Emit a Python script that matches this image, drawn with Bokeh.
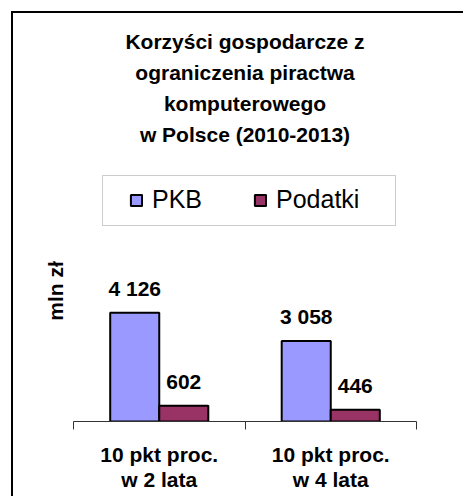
from bokeh.plotting import figure
from bokeh.models import Range1d, FixedTicker, Legend, LegendItem, ColumnDataSource, Title, BoxAnnotation
from bokeh.core.properties import value
from bokeh.transform import dodge
from bokeh.embed import file_html
from bokeh.resources import INLINE

# ---- data ----
categories = ["10 pkt proc.\nw 2 lata", "10 pkt proc.\nw 4 lata"]
series = ["PKB", "Podatki"]
pkb = [4126, 3058]
podatki = [602, 446]
pkb_labels = ["4 126", "3 058"]
podatki_labels = ["602", "446"]
title_lines = ["Korzyści gospodarcze z", "ograniczenia piractwa",
               "komputerowego", "w Polsce (2010-2013)"]
y_label = "mln zł"

FONT = "Liberation Sans"
FS = "21px"
C_PKB = "#9999FF"
C_POD = "#993366"

xpos = [i + 0.5 for i in range(len(categories))]
src = ColumnDataSource(dict(x=xpos, pkb=pkb, podatki=podatki,
                            pkb_lab=pkb_labels, pod_lab=podatki_labels))

W, H = 463, 496
p = figure(width=W, height=H,
           x_range=Range1d(0, len(categories)), y_range=Range1d(0, 9905),
           output_backend="svg", toolbar_location=None,
           min_border_left=73, min_border_right=47,
           min_border_top=160, min_border_bottom=75)

# chart-area border (top and left edges only fall inside the page), drawn
# behind a transparent canvas
p.styles = {"background":
            "linear-gradient(#000,#000) 11px 11px / 2px 100% no-repeat, "
            "linear-gradient(#000,#000) 11px 11px / 100% 2px no-repeat, #fff"}
p.border_fill_color = None
p.background_fill_color = None

p.grid.visible = False
p.outline_line_color = None

# default title unused
p.title.text = ""
p.title.text_font_size = "1px"
p.title.standoff = 0

# small spacer between the title block and the frame
p.add_layout(Title(text=" ", text_font_size="1px", standoff=9), "above")

# title: one Title per line, stacked outward from the frame
for s in reversed(title_lines):
    t = Title(text=s, align="center",
              text_font=FONT, text_font_size=FS, text_font_style="bold",
              text_color="black", standoff=6)
    p.add_layout(t, "above")

# bars
bw = 0.286
r1 = p.vbar(x=dodge("x", -0.143, range=p.x_range), top="pkb", width=bw, source=src,
            fill_color=C_PKB, line_color="black", line_width=2)
r2 = p.vbar(x=dodge("x", 0.143, range=p.x_range), top="podatki", width=bw, source=src,
            fill_color=C_POD, line_color="black", line_width=2)

# value labels
for col, lab, off in (("pkb", "pkb_lab", -0.143), ("podatki", "pod_lab", 0.143)):
    p.text(x=dodge("x", off, range=p.x_range), y=col, text=lab, source=src,
           text_align="center", text_baseline="middle", y_offset=-24,
           text_font=value(FONT), text_font_size=FS, text_font_style="bold",
           text_color="black")

# x axis
xa = p.xaxis[0]
xa.ticker = FixedTicker(ticks=xpos, minor_ticks=[0, 1, 2])
xa.major_label_overrides = {xpos[i]: categories[i] for i in range(len(categories))}
xa.major_tick_line_color = None
xa.major_tick_out = 0
xa.major_tick_in = 0
xa.minor_tick_out = 8
xa.minor_tick_in = 0
xa.minor_tick_line_color = "#333333"
xa.axis_line_color = "#333333"
xa.major_label_text_font = FONT
xa.major_label_text_font_size = FS
xa.major_label_text_font_style = "bold"
xa.major_label_text_color = "black"
xa.major_label_text_line_height = 1.1
xa.major_label_standoff = 13

# y axis
ya = p.yaxis[0]
ya.ticker = FixedTicker(ticks=[])
ya.axis_line_color = None
ya.major_tick_line_color = None
ya.minor_tick_line_color = None
ya.major_label_text_font_size = "0px"
ya.axis_label = y_label
ya.axis_label_text_font = FONT
ya.axis_label_text_font_size = FS
ya.axis_label_text_font_style = "bold"
ya.axis_label_text_color = "black"
ya.axis_label_standoff = 7

# legend frame (screen units relative to the plot frame)
p.add_layout(BoxAnnotation(left=29, right=322, bottom=196, top=246,
                           left_units="screen", right_units="screen",
                           bottom_units="screen", top_units="screen",
                           fill_color="white", fill_alpha=1.0,
                           line_color="#555555", line_width=1, level="underlay"))

legend = Legend(items=[LegendItem(label=series[0], renderers=[r1]),
                       LegendItem(label=series[1], renderers=[r2])],
                orientation="horizontal", location=(56, 207),
                label_text_font=FONT, label_text_font_size="25px",
                label_text_color="black",
                glyph_width=14, glyph_height=14, label_standoff=9,
                spacing=51, padding=12, margin=0,
                border_line_color=None, background_fill_alpha=0.0)
p.add_layout(legend, "center")

open("out.html", "w").write(file_html(p, INLINE))
